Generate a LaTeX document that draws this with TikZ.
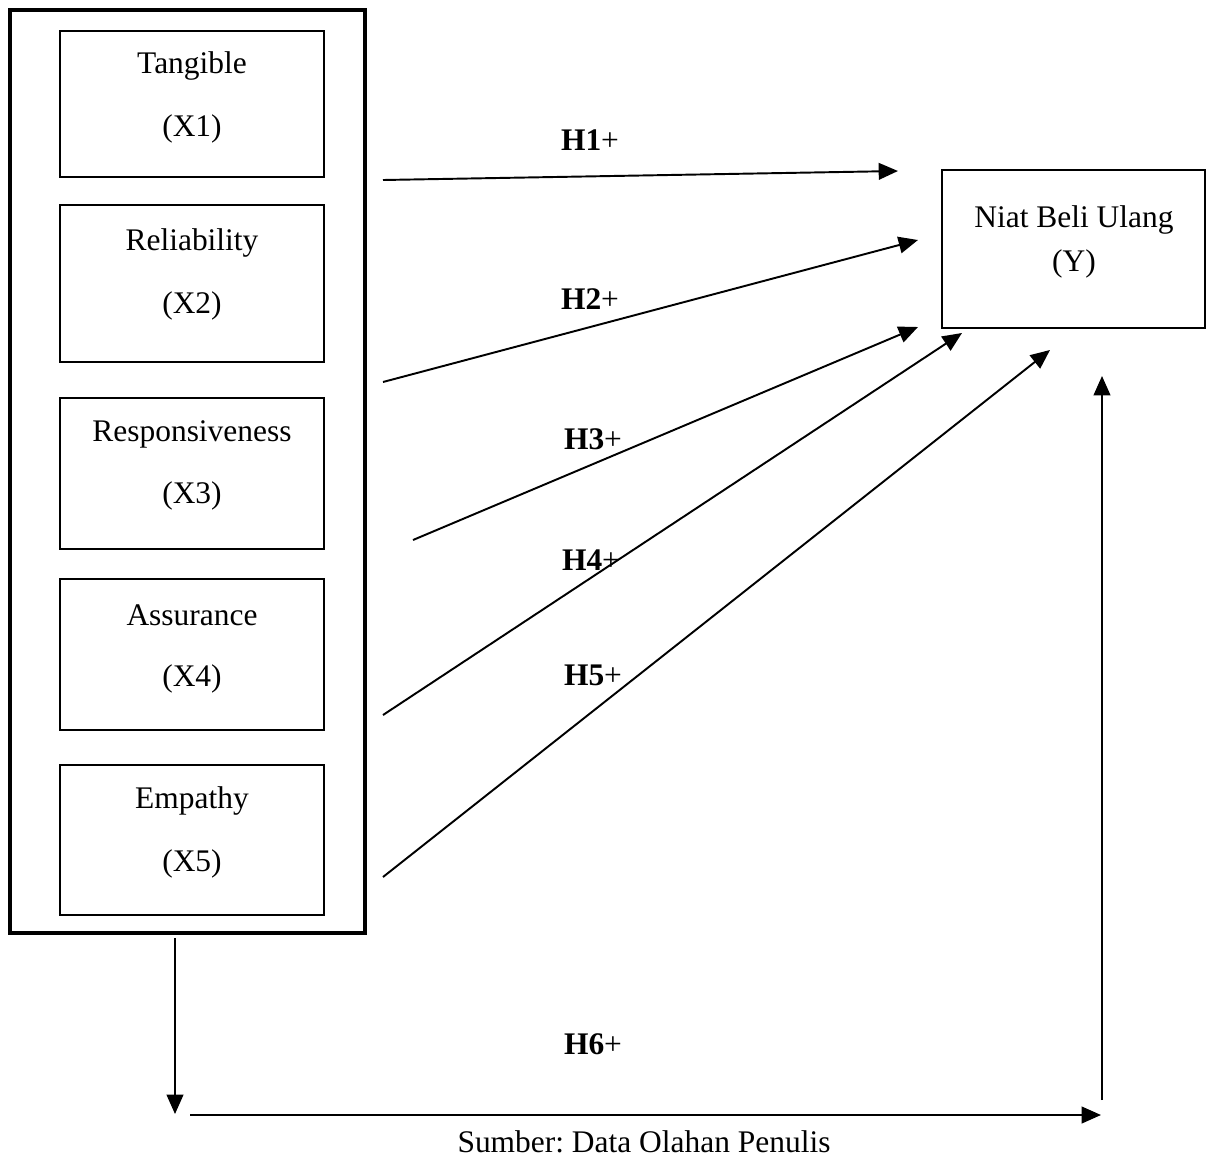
\documentclass[tikz,border=0pt]{standalone}
\usepackage{fontspec}
\setmainfont{Liberation Serif}
\usetikzlibrary{arrows.meta}
\frenchspacing
\begin{document}
\begin{tikzpicture}[x=0.02cm,y=-0.02cm,
  font=\fontsize{17.9}{20}\selectfont,
  vbox/.style={draw,line width=1.1pt,minimum width=264*0.02cm,inner sep=0pt},
  lbl/.style={inner sep=0pt,anchor=center},
  hyp/.style={inner sep=0pt,anchor=center},
  arr/.style={line width=1.1pt,-{Triangle[length=11pt,width=9.5pt]}}]
\useasboundingbox (0,0) rectangle (1208,1157);
% outer box
\draw[line width=2.8pt] (10,10) rectangle (365,933);
% inner boxes
\node[vbox,minimum height=146*0.02cm] (b1) at (192,104) {};
\node[vbox,minimum height=157*0.02cm] (b2) at (192,283.5) {};
\node[vbox,minimum height=151*0.02cm] (b3) at (192,473.5) {};
\node[vbox,minimum height=151*0.02cm] (b4) at (192,654.5) {};
\node[vbox,minimum height=150*0.02cm] (b5) at (192,840) {};
\node[lbl] (t1a) at (192,66) {Tangible};
\node[lbl] (t1b) at (192,129) {(X1)};
\node[lbl] (t2a) at (192,243) {Reliability};
\node[lbl] (t2b) at (192,306) {(X2)};
\node[lbl] (t3a) at (192,434) {Responsiveness};
\node[lbl] (t3b) at (192,496) {(X3)};
\node[lbl] (t4a) at (192,615) {Assurance};
\node[lbl] (t4b) at (192,679) {(X4)};
\node[lbl] (t5a) at (192,801) {Empathy};
\node[lbl] (t5b) at (192,864) {(X5)};
% Y box
\node[draw,line width=1.1pt,minimum width=263*0.02cm,minimum height=158*0.02cm,inner sep=0pt] (y) at (1073.5,249) {};
\node[lbl] (ya) at (1074,220) {Niat Beli Ulang};
\node[lbl] (yb) at (1074,264) {(Y)};
% coordinates
\coordinate (s1) at (383,180); \coordinate (e1) at (898,171);
\coordinate (s2) at (383,382); \coordinate (e2) at (918,240);
\coordinate (s3) at (413,540); \coordinate (e3) at (918,327);
\coordinate (s4) at (383,715); \coordinate (e4) at (962,333);
\coordinate (s5) at (383,877); \coordinate (e5) at (1050,350);
\coordinate (d1) at (175,938); \coordinate (d2) at (175,1114);
\coordinate (h1) at (190,1115); \coordinate (h2) at (1101,1115);
\coordinate (u1) at (1102,1100); \coordinate (u2) at (1102,376);
\draw[arr] (s1) -- (e1);
\draw[arr] (s2) -- (e2);
\draw[arr] (s3) -- (e3);
\draw[arr] (s4) -- (e4);
\draw[arr] (s5) -- (e5);
\draw[arr] (d1) -- (d2);
\draw[arr] (h1) -- (h2);
\draw[arr] (u1) -- (u2);
% labels
\node[hyp] (h1l) at (590,140) {\textbf{H1}+};
\node[hyp] (h2l) at (590,299) {\textbf{H2}+};
\node[hyp] (h3l) at (593,439) {\textbf{H3}+};
\node[hyp] (h4l) at (591,560) {\textbf{H4}+};
\node[hyp] (h5l) at (593,675) {\textbf{H5}+};
\node[hyp] (h6l) at (593,1044) {\textbf{H6}+};
\node[lbl] (src) at (644,1142) {Sumber: Data Olahan Penulis};
\end{tikzpicture}
\end{document}
